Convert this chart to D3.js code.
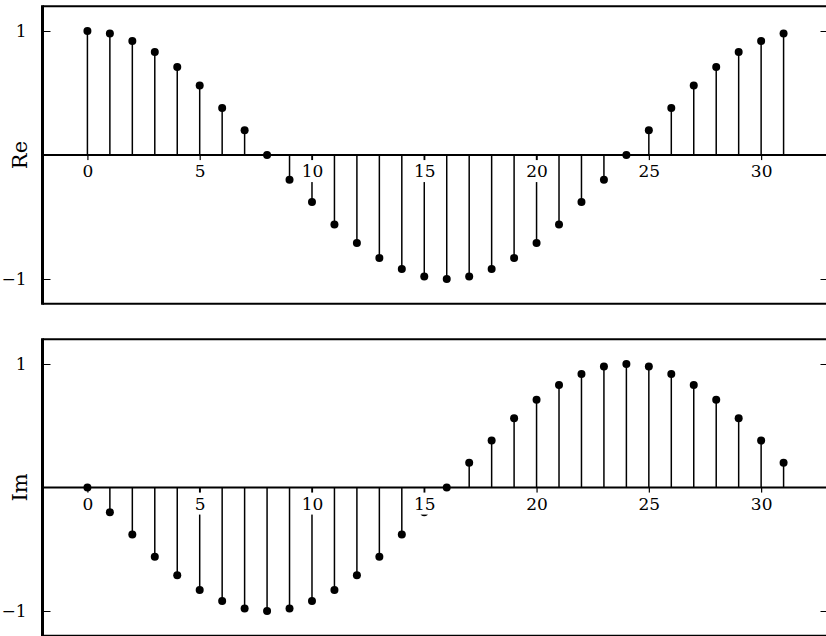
<!DOCTYPE html>
<html lang="en">
<head>
    <meta charset="UTF-8">
    <title>Re / Im stem plot</title>
    <script src="https://d3js.org/d3.v7.min.js"></script>
    <style>
        body { margin: 0; background: #fff; }
        text { font-family: "DejaVu Serif", serif; }
    </style>
</head>
<body>
<script>
    // sample index n = 0..31
    let samples = d3.range(32);
    let reValues = [1, 0.98, 0.92, 0.83, 0.71, 0.56, 0.38, 0.2, 0, -0.2, -0.38, -0.56, -0.71, -0.83, -0.92, -0.98,
        -1, -0.98, -0.92, -0.83, -0.71, -0.56, -0.38, -0.2, 0, 0.2, 0.38, 0.56, 0.71, 0.83, 0.92, 0.98];
    // imaginary part
    let imValues = [0, -0.2, -0.38, -0.56, -0.71, -0.83, -0.92, -0.98, -1, -0.98, -0.92, -0.83, -0.71, -0.56, -0.38, -0.2,
        0, 0.2, 0.38, 0.56, 0.71, 0.83, 0.92, 0.98, 1, 0.98, 0.92, 0.83, 0.71, 0.56, 0.38, 0.2];
    let xTicks = [0, 5, 10, 15, 20, 25, 30];
    let yTicks = [-1, 1];

    let width = 826, height = 636;
    let left = 42.5, right = 828.5;

    let svg = d3.select("body").append("svg")
        .attr("width", width)
        .attr("height", height);

    let x = d3.scaleLinear().domain([-2, 33]).range([left, right]);

    function panel(values, label, top, bottom) {
        let y = d3.scaleLinear().domain([-1.2, 1.2]).range([bottom, top]);
        let g = svg.append("g");

        // stems
        g.selectAll(".stem").data(samples).enter()
            .append("line")
            .attr("class", "stem")
            .attr("x1", d => x(d)).attr("x2", d => x(d))
            .attr("y1", y(0)).attr("y2", d => y(values[d]))
            .style("stroke", "black")
            .style("stroke-width", 1.5);

        // zero line
        g.append("line")
            .attr("x1", left).attr("x2", right)
            .attr("y1", y(0)).attr("y2", y(0))
            .style("stroke", "black")
            .style("stroke-width", 2);

        // markers
        g.selectAll(".dot").data(samples).enter()
            .append("circle")
            .attr("class", "dot")
            .attr("cx", d => x(d))
            .attr("cy", d => y(values[d]))
            .attr("r", 4)
            .style("fill", "black");

        // x axis through zero, labels on white boxes
        let xa = g.append("g")
            .attr("transform", `translate(0,${y(0)})`)
            .call(d3.axisBottom(x).tickValues(xTicks).tickSize(7).tickPadding(3).tickFormat(d3.format("d")));
        xa.select(".domain").remove();
        xa.selectAll("line").style("stroke-width", 1.2);
        xa.selectAll("text").style("font-size", "17px").style("fill", "black");
        xa.selectAll(".tick").each(function () {
            let t = d3.select(this).select("text");
            let b = t.node().getBBox();
            d3.select(this).insert("rect", "text")
                .attr("x", b.x - 1).attr("y", b.y - 1)
                .attr("width", b.width + 2).attr("height", b.height + 2)
                .style("fill", "white");
        });

        // y axis left
        let ya = g.append("g")
            .attr("transform", `translate(${left},0)`)
            .call(d3.axisLeft(y).tickValues(yTicks).tickSizeInner(-8).tickSizeOuter(0).tickPadding(16)
                .tickFormat(d3.format("d")));
        ya.select(".domain").remove();
        ya.selectAll("line").style("stroke-width", 1);
        ya.selectAll("text").style("font-size", "17px").style("fill", "black");

        // y axis right (ticks only)
        let yr = g.append("g")
            .attr("transform", `translate(${right},0)`)
            .call(d3.axisRight(y).tickValues(yTicks).tickSizeInner(-8).tickSizeOuter(0).tickFormat(""));
        yr.select(".domain").remove();
        yr.selectAll("line").style("stroke-width", 1);

        // frame
        g.append("line").attr("x1", left).attr("x2", right).attr("y1", top).attr("y2", top)
            .style("stroke", "black").style("stroke-width", 2);
        g.append("line").attr("x1", left).attr("x2", right).attr("y1", bottom).attr("y2", bottom)
            .style("stroke", "black").style("stroke-width", 2);
        g.append("line").attr("x1", left).attr("x2", left).attr("y1", top - 1).attr("y2", bottom + 1)
            .style("stroke", "black").style("stroke-width", 3);

        // axis label
        g.append("text")
            .attr("transform", `translate(27,${y(0)}) rotate(-90)`)
            .attr("text-anchor", "middle")
            .style("font-size", "21px")
            .text(label);
    }

    panel(reValues, "Re", 6.2, 303.8);
    panel(imValues, "Im", 339.3, 635.7);
</script>
</body>
</html>
